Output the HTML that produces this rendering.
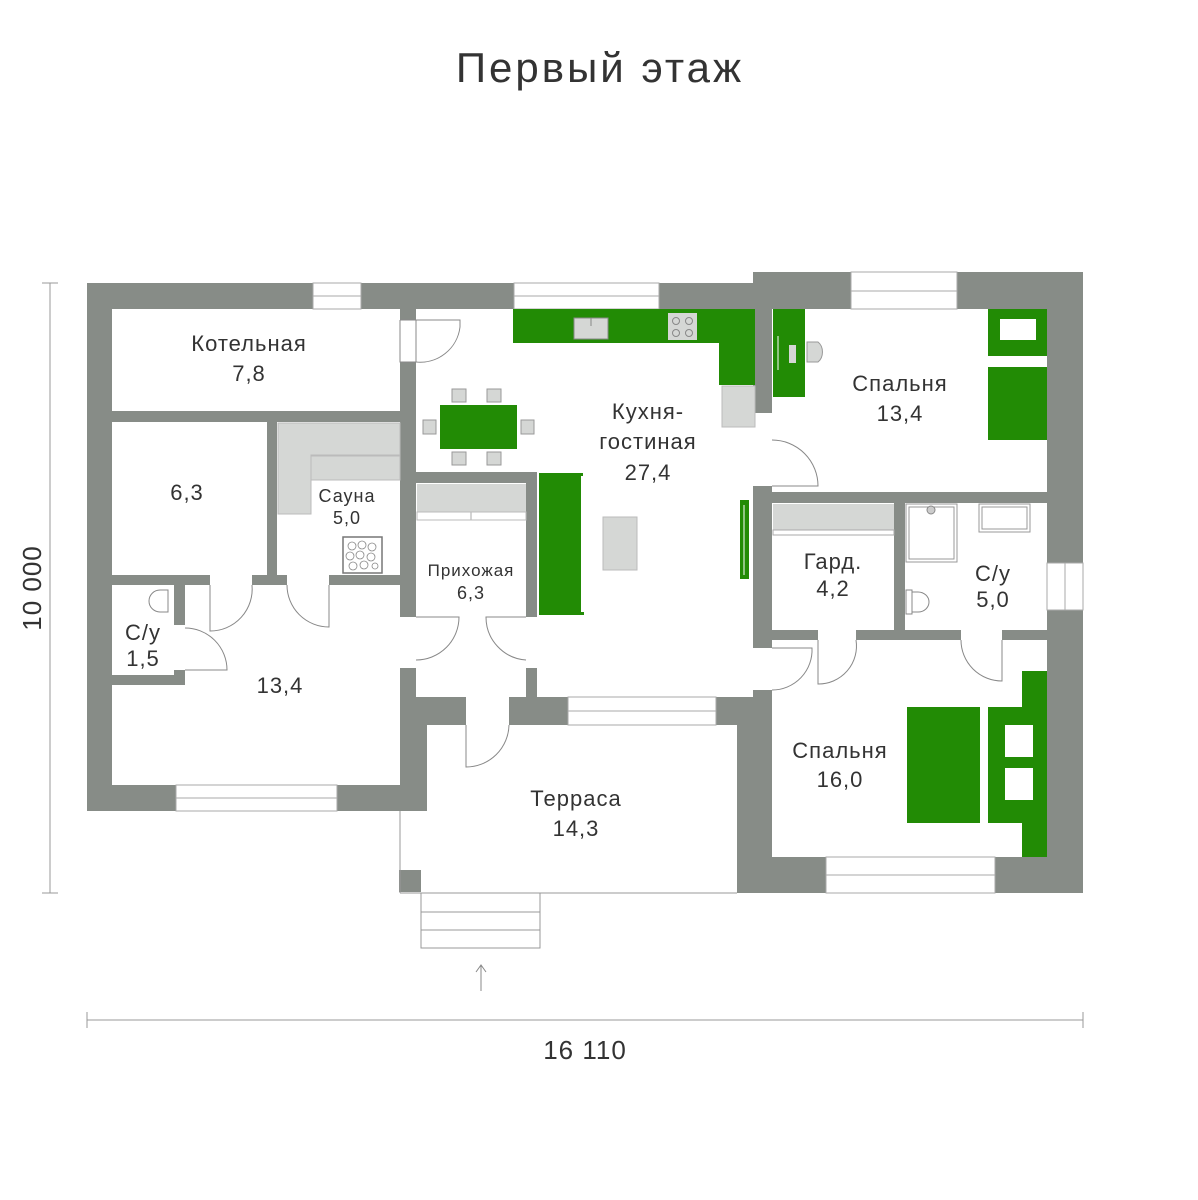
<!DOCTYPE html>
<html><head><meta charset="utf-8"><style>
html,body{margin:0;padding:0;background:#fff;}
svg{display:block;}
text{font-family:"Liberation Sans",sans-serif;fill:#333;}
</style></head><body>
<svg width="1198" height="1200" viewBox="0 0 1198 1200" xmlns="http://www.w3.org/2000/svg">
<text x="600" y="82" font-size="42" text-anchor="middle" fill="#222" letter-spacing="3">Первый этаж</text>

<!-- walls base -->
<g fill="#878c87">
<rect x="87" y="283" width="666" height="528"/>
<rect x="753" y="272" width="330" height="621"/>
<rect x="737" y="697" width="36" height="196"/>
<rect x="400" y="697" width="337" height="28"/>
<rect x="399" y="870" width="22" height="22"/>
</g>
<!-- rooms white -->
<g fill="#fff">
<rect x="112" y="309" width="288" height="102"/>
<rect x="112" y="422" width="155" height="153"/>
<rect x="277" y="422" width="123" height="153"/>
<rect x="112" y="585" width="62" height="90"/>
<rect x="185" y="585" width="215" height="200"/>
<rect x="112" y="685" width="288" height="100"/>
<rect x="416" y="309" width="337" height="163"/>
<rect x="537" y="472" width="216" height="225"/>
<rect x="416" y="483" width="110" height="214"/>
<rect x="772" y="309" width="275" height="183"/>
<rect x="772" y="503" width="122" height="127"/>
<rect x="905" y="503" width="142" height="127"/>
<rect x="772" y="640" width="275" height="217"/>
<rect x="427" y="725" width="310" height="87"/>
<rect x="400" y="811" width="337" height="59"/>
<rect x="421" y="870" width="316" height="23"/>
</g>
<!-- terrace outline -->
<g stroke="#999" stroke-width="1" fill="none">
<line x1="400" y1="811" x2="400" y2="893"/>
<line x1="400" y1="893" x2="737" y2="893"/>
<rect x="421" y="893" width="119" height="55"/>
<line x1="421" y1="912" x2="540" y2="912"/>
<line x1="421" y1="930" x2="540" y2="930"/>
</g>
<!-- windows -->
<g fill="#fff" stroke="#aaa" stroke-width="1">
<rect x="313" y="283" width="48" height="26"/>
<rect x="514" y="283" width="145" height="26"/>
<rect x="851" y="272" width="106" height="37"/>
<rect x="176" y="785" width="161" height="26"/>
<rect x="568" y="697" width="148" height="28"/>
<rect x="826" y="857" width="169" height="36"/>
<rect x="1047" y="563" width="36" height="47"/>
</g>
<g stroke="#aaa" stroke-width="1">
<line x1="313" y1="296" x2="361" y2="296"/>
<line x1="514" y1="296" x2="659" y2="296"/>
<line x1="851" y1="291" x2="957" y2="291"/>
<line x1="176" y1="798" x2="337" y2="798"/>
<line x1="568" y1="711" x2="716" y2="711"/>
<line x1="826" y1="875" x2="995" y2="875"/>
<line x1="1065" y1="563" x2="1065" y2="610"/>
</g>
<!-- door openings -->
<g fill="#fff">
<rect x="400" y="320" width="16" height="42"/>
<rect x="400" y="617" width="16" height="51"/>
<rect x="526" y="617" width="11" height="51"/>
<rect x="753" y="413" width="19" height="73"/>
<rect x="753" y="648" width="19" height="42"/>
<rect x="210" y="575" width="42" height="10"/>
<rect x="287" y="575" width="42" height="10"/>
<rect x="174" y="625" width="11" height="45"/>
<rect x="466" y="697" width="43" height="28"/>
<rect x="818" y="630" width="38" height="10"/>
<rect x="961" y="630" width="41" height="10"/>
</g>
<!-- door swings -->
<g fill="none" stroke="#888" stroke-width="1">
<path d="M400 320 H460 V327 A40 40 0 0 1 416 362 H400 V320"/>
<line x1="416" y1="320" x2="416" y2="362"/>
<path d="M416 617 H459 A43 43 0 0 1 416 660"/>
<path d="M526 617 H486 A43 43 0 0 0 526 660"/>
<path d="M210 585 V631 A42 42 0 0 0 252 585"/>
<path d="M287 585 A42 42 0 0 0 329 627 V585"/>
<path d="M185 628 A42 42 0 0 1 227 670 H185"/>
<path d="M466 725 V767 A43 43 0 0 0 509 725"/>
<path d="M772 440 A46 46 0 0 1 818 486 H772"/>
<path d="M772 648 H812 A40 40 0 0 1 772 690"/>
<path d="M818 640 V684 A38 38 0 0 0 856 640"/>
<path d="M961 640 A41 41 0 0 0 1002 681 V640"/>
</g>
<!-- sauna fixtures -->
<g fill="#d5d7d5" stroke="#bbb" stroke-width="1">
<path d="M278 423 H400 V455 H311 V514 H278 Z"/>
<rect x="311" y="456" width="89" height="24"/>
</g>
<rect x="343" y="537" width="39" height="36" fill="#fff" stroke="#777" stroke-width="1.5"/>
<g fill="none" stroke="#888" stroke-width="0.8">
<circle cx="352" cy="546" r="4"/><circle cx="362" cy="545" r="4"/><circle cx="372" cy="547" r="4"/>
<circle cx="350" cy="556" r="4"/><circle cx="360" cy="555" r="4"/><circle cx="371" cy="557" r="4"/>
<circle cx="353" cy="566" r="4"/><circle cx="364" cy="565" r="4"/><circle cx="375" cy="566" r="3"/>
</g>
<!-- su 1.5 toilet -->
<path d="M168 590 V612 H160 A11 11 0 0 1 160 590 Z" fill="#fff" stroke="#888"/>
<!-- prihozhaya wardrobe -->
<rect x="417" y="484" width="109" height="28" fill="#d5d7d5"/>
<line x1="471" y1="512" x2="471" y2="520" stroke="#aaa"/>
<rect x="417" y="512" width="109" height="8" fill="none" stroke="#bbb"/>
<!-- kitchen -->
<g fill="#228b05">
<path d="M513 309 H755 V385 H719 V343 H513 Z"/>
<rect x="440" y="405" width="77" height="44"/>
<path d="M539 473 H583 V476 H581 V612 H584 V615 H539 Z"/>
<rect x="740" y="500" width="9" height="79"/>
</g>
<line x1="744" y1="505" x2="744" y2="575" stroke="#fff"/>
<rect x="722" y="386" width="33" height="41" fill="#d5d7d5" stroke="#bbb"/>
<rect x="574" y="318" width="34" height="21" fill="#d5d7d5" stroke="#888"/>
<line x1="591" y1="318" x2="591" y2="326" stroke="#888"/>
<rect x="668" y="313" width="29" height="27" fill="#d5d7d5"/>
<g fill="none" stroke="#888"><circle cx="676" cy="321" r="3.5"/><circle cx="689" cy="321" r="3.5"/><circle cx="676" cy="333" r="3.5"/><circle cx="689" cy="333" r="3.5"/></g>
<rect x="603" y="517" width="34" height="53" fill="#d5d7d5" stroke="#bbb"/>
<g fill="#d5d7d5" stroke="#999" stroke-width="1">
<rect x="452" y="389" width="14" height="13"/><rect x="487" y="389" width="14" height="13"/>
<rect x="452" y="452" width="14" height="13"/><rect x="487" y="452" width="14" height="13"/>
<rect x="423" y="420" width="13" height="14"/><rect x="521" y="420" width="13" height="14"/>
</g>
<!-- bedroom 13.4 -->
<rect x="773" y="309" width="32" height="88" fill="#228b05"/>
<line x1="778" y1="336" x2="778" y2="370" stroke="#fff"/>
<rect x="789" y="345" width="7" height="18" fill="#d5d7d5"/>
<path d="M807 342 H818 A10 12 0 0 1 818 362 H807 Z" fill="#d5d7d5" stroke="#999"/>
<rect x="988" y="309" width="59" height="131" fill="#228b05"/>
<rect x="1000" y="319" width="36" height="21" fill="#fff"/>
<rect x="988" y="356" width="59" height="11" fill="#fff"/>
<!-- gard -->
<rect x="773" y="504" width="121" height="26" fill="#d5d7d5"/>
<rect x="773" y="530" width="121" height="5" fill="none" stroke="#aaa"/>
<!-- SU 5.0 -->
<rect x="906" y="504" width="51" height="58" fill="#fff" stroke="#999"/>
<rect x="909" y="507" width="45" height="52" fill="none" stroke="#999"/>
<circle cx="931" cy="510" r="4" fill="#ccc" stroke="#888"/>
<rect x="979" y="504" width="51" height="28" fill="#fff" stroke="#999"/>
<rect x="982" y="507" width="45" height="22" fill="none" stroke="#999"/>
<path d="M906 590 H912 V614 H906 Z M912 592 H918 A11 10 0 0 1 918 612 H912 Z" fill="#fff" stroke="#888"/>
<!-- bedroom 16 -->
<g fill="#228b05">
<rect x="907" y="707" width="73" height="116"/>
<path d="M1022 671 H1047 V857 H1022 V823 H988 V707 H1022 Z"/>
</g>
<rect x="1005" y="725" width="28" height="32" fill="#fff"/>
<rect x="1005" y="768" width="28" height="32" fill="#fff"/>
<!-- arrow -->
<g stroke="#888" fill="none"><line x1="481" y1="966" x2="481" y2="991"/><path d="M476 972 L481 965 L486 972"/></g>
<!-- dimensions -->
<g stroke="#999" stroke-width="1">
<line x1="50" y1="283" x2="50" y2="893"/>
<line x1="42" y1="283" x2="58" y2="283"/>
<line x1="42" y1="893" x2="58" y2="893"/>
<line x1="87" y1="1020" x2="1083" y2="1020"/>
<line x1="87" y1="1012" x2="87" y2="1028"/>
<line x1="1083" y1="1012" x2="1083" y2="1028"/>
</g>
<text x="585" y="1059" font-size="26" text-anchor="middle" letter-spacing="1">16 110</text>
<text transform="translate(41,588) rotate(-90)" font-size="26" text-anchor="middle" letter-spacing="1">10 000</text>
<!-- labels -->
<g font-size="22" text-anchor="middle" letter-spacing="1">
<text x="249" y="351">Котельная</text><text x="249" y="381">7,8</text>
<text x="187" y="500">6,3</text>
<text x="347" y="502" font-size="18">Сауна</text><text x="347" y="524" font-size="18">5,0</text>
<text x="143" y="640">С/у</text><text x="143" y="666">1,5</text>
<text x="280" y="693">13,4</text>
<text x="471" y="576" font-size="17">Прихожая</text><text x="471" y="599" font-size="18">6,3</text>
<text x="648" y="419">Кухня-</text><text x="648" y="449">гостиная</text><text x="648" y="480">27,4</text>
<text x="900" y="391">Спальня</text><text x="900" y="421">13,4</text>
<text x="833" y="569">Гард.</text><text x="833" y="596">4,2</text>
<text x="993" y="581">С/у</text><text x="993" y="607">5,0</text>
<text x="840" y="758">Спальня</text><text x="840" y="787">16,0</text>
<text x="576" y="806">Терраса</text><text x="576" y="836">14,3</text>
</g>
</svg>
</body></html>
